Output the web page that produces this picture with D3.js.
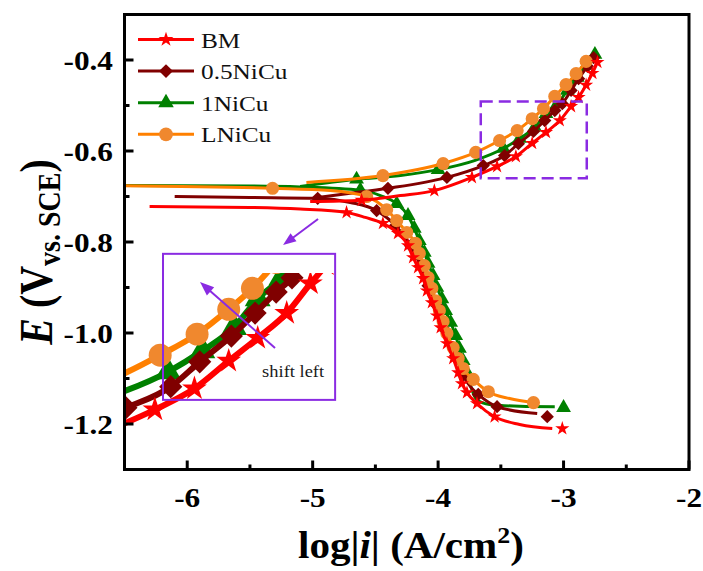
<!DOCTYPE html>
<html><head><meta charset="utf-8">
<script src="https://cdn.jsdelivr.net/npm/d3@7"></script>
<style>body{margin:0;background:#fff} svg{display:block}</style>
</head><body>
<svg id="c" width="703" height="571"></svg>
<script>
// ---------- DATA ----------
const xTicks = [-6, -5, -4, -3, -2];
const xTickLabels = ["-6", "-5", "-4", "-3", "-2"];
const xMinor = [-5.5, -4.5, -3.5, -2.5];
const yTicks = [-0.4, -0.6, -0.8, -1.0, -1.2];
const yTickLabels = ["-0.4", "-0.6", "-0.8", "-1.0", "-1.2"];
const yMinor = [-0.5, -0.7, -0.9, -1.1];
const seriesNames = ["BM", "0.5NiCu", "1NiCu", "LNiCu"];

// BM
const bmAnodicLine = [[-5.02,-0.711],[-4.61,-0.708],[-4.30,-0.698],[-4.03,-0.687],[-3.73,-0.658],[-3.53,-0.634],[-3.38,-0.612],[-3.25,-0.583],[-3.14,-0.559],[-3.03,-0.533],[-2.94,-0.502],[-2.88,-0.482],[-2.82,-0.455],[-2.77,-0.429],[-2.73,-0.405]];
const bmAnodicMarks = [[-4.61,-0.708],[-4.03,-0.687],[-3.73,-0.658],[-3.53,-0.634],[-3.38,-0.612],[-3.25,-0.583],[-3.14,-0.559],[-3.03,-0.533],[-2.94,-0.502],[-2.88,-0.482],[-2.82,-0.455],[-2.77,-0.429],[-2.73,-0.405]];
const bmCathLine = [[-6.30,-0.722],[-5.50,-0.724],[-5.10,-0.7275],[-4.73,-0.735],[-4.58,-0.746],[-4.44,-0.759],[-4.32,-0.781],[-4.24,-0.808],[-4.20,-0.834],[-4.16,-0.856],[-4.12,-0.880],[-4.09,-0.907],[-4.05,-0.933],[-4.01,-0.962],[-3.98,-0.988],[-3.93,-1.023],[-3.88,-1.056],[-3.84,-1.087],[-3.81,-1.111],[-3.77,-1.131],[-3.69,-1.155],[-3.55,-1.184],[-3.35,-1.201],[-3.09,-1.210]];
const bmCathMarks = [[-4.73,-0.735],[-4.44,-0.759],[-4.32,-0.781],[-4.24,-0.808],[-4.20,-0.834],[-4.16,-0.856],[-4.12,-0.880],[-4.09,-0.907],[-4.05,-0.933],[-4.01,-0.962],[-3.98,-0.988],[-3.93,-1.023],[-3.88,-1.056],[-3.84,-1.087],[-3.81,-1.111],[-3.77,-1.131],[-3.69,-1.155],[-3.55,-1.184],[-3.01,-1.210]];

// 0.5NiCu
const nc05AnodicLine = [[-4.96,-0.702],[-4.70,-0.693],[-4.40,-0.682],[-3.93,-0.658],[-3.64,-0.632],[-3.47,-0.610],[-3.36,-0.584],[-3.24,-0.557],[-3.15,-0.533],[-3.07,-0.511],[-3.01,-0.496],[-2.94,-0.467],[-2.88,-0.441],[-2.81,-0.414],[-2.76,-0.395]];
const nc05AnodicMarks = [[-4.40,-0.682],[-3.93,-0.658],[-3.64,-0.632],[-3.47,-0.610],[-3.36,-0.584],[-3.24,-0.557],[-3.15,-0.533],[-3.07,-0.511],[-3.01,-0.496],[-2.94,-0.467],[-2.88,-0.441],[-2.81,-0.414],[-2.76,-0.395]];
const nc05CathLine = [[-6.10,-0.700],[-5.50,-0.702],[-4.96,-0.704],[-4.70,-0.713],[-4.49,-0.731],[-4.34,-0.764],[-4.22,-0.808],[-4.14,-0.852],[-4.08,-0.896],[-4.01,-0.940],[-3.94,-0.995],[-3.86,-1.050],[-3.80,-1.093],[-3.73,-1.122],[-3.68,-1.135],[-3.53,-1.162],[-3.21,-1.177]];
const nc05CathMarks = [[-4.96,-0.704],[-4.49,-0.731],[-4.34,-0.764],[-4.22,-0.808],[-4.14,-0.852],[-4.08,-0.896],[-4.01,-0.940],[-3.94,-0.995],[-3.86,-1.050],[-3.80,-1.093],[-3.68,-1.135],[-3.53,-1.162],[-3.13,-1.184]];

// 1NiCu
const nc1AnodicLine = [[-5.10,-0.678],[-4.65,-0.662],[-4.30,-0.654],[-4.00,-0.641],[-3.71,-0.621],[-3.48,-0.5945],[-3.35,-0.5725],[-3.23,-0.548],[-3.14,-0.518],[-3.05,-0.496],[-2.97,-0.467],[-2.89,-0.4385],[-2.82,-0.412],[-2.75,-0.388]];
const nc1AnodicMarks = [[-4.65,-0.662],[-4.00,-0.641],[-3.48,-0.5945],[-3.35,-0.5725],[-3.23,-0.548],[-3.14,-0.518],[-3.05,-0.496],[-2.97,-0.467],[-2.89,-0.4385],[-2.82,-0.412],[-2.75,-0.388]];
const nc1CathLine = [[-6.60,-0.676],[-5.50,-0.677],[-5.10,-0.679],[-4.62,-0.686],[-4.46,-0.698],[-4.33,-0.716],[-4.24,-0.742],[-4.19,-0.770],[-4.15,-0.797],[-4.11,-0.823],[-4.08,-0.847],[-4.04,-0.874],[-4.01,-0.900],[-3.97,-0.925],[-3.94,-0.951],[-3.90,-0.977],[-3.86,-1.006],[-3.83,-1.034],[-3.80,-1.061],[-3.77,-1.087],[-3.74,-1.117],[-3.69,-1.147],[-3.59,-1.157],[-3.35,-1.161],[-3.07,-1.162]];
const nc1CathMarks = [[-4.62,-0.686],[-4.33,-0.716],[-4.24,-0.742],[-4.19,-0.770],[-4.15,-0.797],[-4.11,-0.823],[-4.08,-0.847],[-4.04,-0.874],[-4.01,-0.900],[-3.97,-0.925],[-3.94,-0.951],[-3.90,-0.977],[-3.86,-1.006],[-3.83,-1.034],[-3.80,-1.061],[-3.77,-1.087],[-3.00,-1.164]];

// LNiCu
const lncAnodicLine = [[-5.05,-0.669],[-4.44,-0.654],[-3.96,-0.6275],[-3.70,-0.603],[-3.51,-0.577],[-3.37,-0.555],[-3.25,-0.529],[-3.16,-0.507],[-3.07,-0.480],[-2.98,-0.454],[-2.90,-0.430],[-2.82,-0.403]];
const lncAnodicMarks = [[-4.44,-0.654],[-3.96,-0.6275],[-3.70,-0.603],[-3.51,-0.577],[-3.37,-0.555],[-3.25,-0.529],[-3.16,-0.507],[-3.07,-0.480],[-2.98,-0.454],[-2.90,-0.430],[-2.82,-0.403]];
const lncCathLine = [[-6.60,-0.676],[-5.32,-0.682],[-4.86,-0.687],[-4.57,-0.700],[-4.41,-0.729],[-4.33,-0.753],[-4.25,-0.779],[-4.18,-0.803],[-4.15,-0.825],[-4.11,-0.852],[-4.08,-0.878],[-4.05,-0.902],[-4.02,-0.929],[-3.99,-0.951],[-3.96,-0.975],[-3.93,-1.001],[-3.88,-1.032],[-3.84,-1.056],[-3.80,-1.078],[-3.72,-1.102],[-3.60,-1.129],[-3.43,-1.144],[-3.24,-1.153]];
const lncCathMarks = [[-5.32,-0.682],[-4.57,-0.700],[-4.41,-0.729],[-4.33,-0.753],[-4.25,-0.779],[-4.18,-0.803],[-4.15,-0.825],[-4.11,-0.852],[-4.08,-0.878],[-4.05,-0.902],[-4.02,-0.929],[-3.99,-0.951],[-3.96,-0.975],[-3.93,-1.001],[-3.88,-1.032],[-3.84,-1.056],[-3.80,-1.078],[-3.72,-1.102],[-3.60,-1.129],[-3.24,-1.153]];

// annotations (data coordinates)
const zoomBox = {x0: -3.66, x1: -2.815, y0: -0.491, y1: -0.660};
const insetBox = {x0: -6.193, x1: -4.821, y0: -0.826, y1: -1.147};
const arrowToInset = {from: [-4.957, -0.7495], to: [-5.236, -0.8066]};
const arrowShift = {from: [-5.30, -1.033], to: [-5.898, -0.888]};
const shiftLabel = {text: "shift left", at: [-5.403, -1.097]};

// ---------- CHART ----------
const svg = d3.select("#c");
const L = 124.5, R = 689, T = 14.5, B = 469.5;
const x = d3.scaleLinear().domain([-6.5, -2]).range([L, R]);
const y = d3.scaleLinear().domain([-0.3, -1.3]).range([T, B]);
const ix = d3.scaleLinear().domain([-3.67, -2.81]).range([118, 344.7]);
const iy = d3.scaleLinear().domain([-0.491, -0.661]).range([273, 435.4]);

const defs = svg.append("defs");
defs.append("clipPath").attr("id", "clipMain").append("rect")
  .attr("x", L).attr("y", T).attr("width", R - L).attr("height", B - T);
defs.append("clipPath").attr("id", "clipInset").append("rect")
  .attr("x", L + 1.5).attr("y", 273).attr("width", R - L).attr("height", B - 273 - 1.5);

const series = {
  "BM":      {color: "#ff0000", mcolor: "#ff0000", shape: "star",
              lines: [bmAnodicLine, bmCathLine], marks: [bmAnodicMarks, bmCathMarks], inset: [bmAnodicLine, bmAnodicMarks]},
  "0.5NiCu": {color: "#800000", mcolor: "#800000", shape: "diamond",
              lines: [nc05AnodicLine, nc05CathLine], marks: [nc05AnodicMarks, nc05CathMarks], inset: [nc05AnodicLine, nc05AnodicMarks]},
  "1NiCu":   {color: "#008000", mcolor: "#008000", shape: "triangle",
              lines: [nc1AnodicLine, nc1CathLine], marks: [nc1AnodicMarks, nc1CathMarks], inset: [nc1AnodicLine, nc1AnodicMarks]},
  "LNiCu":   {color: "#ff8000", mcolor: "#f0882e", shape: "circle",
              lines: [lncAnodicLine, lncCathLine], marks: [lncAnodicMarks, lncCathMarks], inset: [lncAnodicLine, lncAnodicMarks]}
};
const drawOrder = ["1NiCu", "0.5NiCu", "LNiCu", "BM"];

function symbolPath(shape, s) {
  if (shape === "star") return d3.symbol(d3.symbolStar, 62 * s * s)();
  if (shape === "diamond") return d3.symbol(d3.symbolSquare, 88 * s * s)();
  if (shape === "triangle") return d3.symbol(d3.symbolTriangle, 95 * s * s)();
  return d3.symbol(d3.symbolCircle, 135 * s * s)();
}
function drawMarks(g, pts, sx, sy, ser, s) {
  const p = symbolPath(ser.shape, s);
  g.selectAll(null).data(pts).enter().append("path")
    .attr("d", p)
    .attr("transform", d => `translate(${sx(d[0])},${sy(d[1])})` + (ser.shape === "diamond" ? " rotate(45)" : ""))
    .attr("fill", ser.mcolor);
}
function lineGen(sx, sy) {
  return d3.line().x(d => sx(d[0])).y(d => sy(d[1])).curve(d3.curveMonotoneX);
}

// main series
const gMain = svg.append("g").attr("clip-path", "url(#clipMain)");
drawOrder.forEach(name => {
  const ser = series[name];
  const g = gMain.append("g");
  ser.lines.forEach(ln => g.append("path").attr("d", lineGen(x, y)(ln))
    .attr("fill", "none").attr("stroke", ser.color).attr("stroke-width", 3).attr("stroke-linejoin", "round"));
  ser.marks.forEach(m => drawMarks(g, m, x, y, ser, 1));
});

// inset (magnified view of the dashed region)
const gInset = svg.append("g").attr("clip-path", "url(#clipInset)");
drawOrder.forEach(name => {
  const ser = series[name];
  const g = gInset.append("g");
  g.append("path").attr("d", lineGen(ix, iy)(ser.inset[0]))
    .attr("fill", "none").attr("stroke", ser.color).attr("stroke-width", 6).attr("stroke-linejoin", "round");
  drawMarks(g, ser.inset[1], ix, iy, ser, 1.75);
});

const purple = "#8a2be2";
// inset box
svg.append("rect")
  .attr("x", x(insetBox.x0)).attr("y", y(insetBox.y0))
  .attr("width", x(insetBox.x1) - x(insetBox.x0)).attr("height", y(insetBox.y1) - y(insetBox.y0))
  .attr("fill", "none").attr("stroke", purple).attr("stroke-width", 2);
// dashed zoom box
svg.append("rect")
  .attr("x", x(zoomBox.x0)).attr("y", y(zoomBox.y0))
  .attr("width", x(zoomBox.x1) - x(zoomBox.x0)).attr("height", y(zoomBox.y1) - y(zoomBox.y0))
  .attr("fill", "none").attr("stroke", purple).attr("stroke-width", 2.5).attr("stroke-dasharray", "12,6");

function arrow(a, headLen, headW) {
  const x1 = x(a.from[0]), y1 = y(a.from[1]), x2 = x(a.to[0]), y2 = y(a.to[1]);
  const dx = x2 - x1, dy = y2 - y1, len = Math.hypot(dx, dy), ux = dx / len, uy = dy / len;
  const bx = x2 - ux * headLen, by = y2 - uy * headLen;
  svg.append("line").attr("x1", x1).attr("y1", y1).attr("x2", bx + ux * 2).attr("y2", by + uy * 2)
    .attr("stroke", purple).attr("stroke-width", 2);
  svg.append("path").attr("d", `M${x2},${y2}L${bx - uy * headW},${by + ux * headW}L${bx + uy * headW},${by - ux * headW}Z`)
    .attr("fill", purple);
}
arrow(arrowToInset, 13, 5);
arrow(arrowShift, 14, 5.5);

function stretchText(parent, px, py, sx, anchor) {
  return parent.append("g").attr("transform", `translate(${px},${py}) scale(${sx},1)`)
    .append("text").attr("text-anchor", anchor).attr("font-family", "'Liberation Serif','Times New Roman',serif");
}
stretchText(svg, x(shiftLabel.at[0]), y(shiftLabel.at[1]), 1.12, "start")
  .attr("font-size", 16.5).attr("fill", "#1a1a1a").text(shiftLabel.text);

// frame
svg.append("rect").attr("x", L).attr("y", T).attr("width", R - L).attr("height", B - T)
  .attr("fill", "none").attr("stroke", "#000").attr("stroke-width", 3);

// ticks (inward)
const gt = svg.append("g").attr("stroke", "#000").attr("stroke-width", 3);
xTicks.forEach(t => gt.append("line").attr("x1", x(t)).attr("x2", x(t)).attr("y1", B).attr("y2", B - 9));
xMinor.forEach(t => gt.append("line").attr("x1", x(t)).attr("x2", x(t)).attr("y1", B).attr("y2", B - 5));
yTicks.forEach(t => gt.append("line").attr("y1", y(t)).attr("y2", y(t)).attr("x1", L).attr("x2", L + 9));
yMinor.forEach(t => gt.append("line").attr("y1", y(t)).attr("y2", y(t)).attr("x1", L).attr("x2", L + 5));

// tick labels
yTicks.forEach((t, i) => stretchText(svg, 113, y(t) + 9.5, 1.18, "end")
  .attr("font-size", 26.5).attr("font-weight", "bold").text(yTickLabels[i]));
xTicks.forEach((t, i) => stretchText(svg, x(t), 507, 1.18, "middle")
  .attr("font-size", 26.5).attr("font-weight", "bold").text(xTickLabels[i]));

// x axis title
const xt = stretchText(svg, 298, 558, 1.08, "start").attr("font-size", 38).attr("font-weight", "bold");
xt.append("tspan").text("log|");
xt.append("tspan").attr("font-style", "italic").text("i");
xt.append("tspan").text("| (A/cm");
xt.append("tspan").attr("font-size", 24).attr("dy", -15).text("2");
xt.append("tspan").attr("dy", 15).text(")");

// y axis title
const yt = svg.append("g").attr("transform", "translate(52,252) scale(1.15,1) rotate(-90)")
  .append("text").attr("text-anchor", "middle").attr("font-family", "'Liberation Serif','Times New Roman',serif")
  .attr("font-size", 40).attr("font-weight", "bold");
yt.append("tspan").attr("font-style", "italic").text("E");
yt.append("tspan").text(" (V");
yt.append("tspan").attr("font-size", 28).attr("dy", 7).text("vs. SCE");
yt.append("tspan").attr("dy", -7).text(")");

// legend
seriesNames.forEach((name, i) => {
  const ser = series[name];
  const cy = 39.5 + i * 31.6;
  const g = svg.append("g");
  g.append("line").attr("x1", 138).attr("x2", 194).attr("y1", cy).attr("y2", cy)
    .attr("stroke", ser.color).attr("stroke-width", 3);
  const p = symbolPath(ser.shape, 1.05);
  g.append("path").attr("d", p)
    .attr("transform", `translate(166,${cy})` + (ser.shape === "diamond" ? " rotate(45)" : ""))
    .attr("fill", ser.mcolor);
  stretchText(g, 201, cy + 8, 1.15, "start").attr("font-size", 22).attr("fill", "#111").text(name);
});
</script>
</body></html>
